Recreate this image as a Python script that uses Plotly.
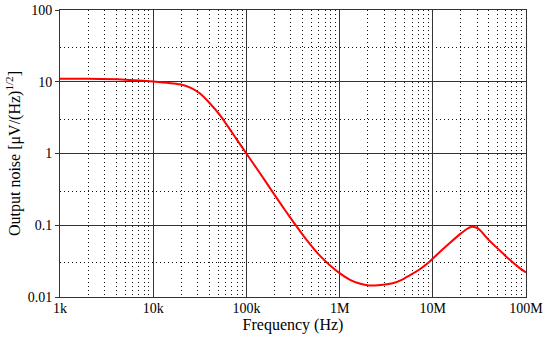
import plotly.graph_objects as go

freq_hz = [1e3, 2e3, 5e3, 1e4, 1.93e4, 2.5e4, 3.16e4, 4e4, 5.18e4, 7.8e4, 1e5, 1.4e5, 1.93e5,
           2.6e5, 3.5e5, 4.4e5, 6.1e5, 7.8e5, 1e6, 1.28e6, 1.64e6, 2.06e6, 2.6e6,
           3.7e6, 4.7e6, 5.6e6, 7.2e6, 9.2e6, 1.18e7, 1.51e7, 1.93e7, 2.3e7, 2.6e7,
           2.9e7, 3.16e7, 4e7, 5.18e7, 6.6e7, 8.5e7, 1e8]
noise = [11.0, 11.0, 10.7, 10.1, 9.2, 8.3, 6.9, 5.1, 3.45, 1.6, 1.0, 0.53, 0.285,
         0.162, 0.094, 0.063, 0.038, 0.028, 0.0215, 0.0175, 0.0154, 0.0145, 0.0146,
         0.0155, 0.0175, 0.0199, 0.0242, 0.031, 0.042, 0.056, 0.074, 0.088, 0.095,
         0.093, 0.087, 0.062, 0.045, 0.0335, 0.0255, 0.022]

x_major = [1e3, 1e4, 1e5, 1e6, 1e7, 1e8]
x_labels = ["1k", "10k", "100k", "1M", "10M", "100M"]
y_major = [0.01, 0.1, 1, 10, 100]
y_labels = ["0.01", "0.1", "1", "10", "100"]
x_minor = [m * d for d in [1e3, 1e4, 1e5, 1e6, 1e7] for m in range(2, 10)]
y_minor = [3 * d for d in [0.01, 0.1, 1, 10]]

serif = "Liberation Serif, Times New Roman, serif"

fig = go.Figure()
fig.add_trace(go.Scatter(x=freq_hz, y=noise, mode="lines",
                         line=dict(color="#ff0000", width=2, shape="spline", smoothing=0.6),
                         showlegend=False, hoverinfo="skip"))

axis_common = dict(
    type="log", tickmode="array",
    showgrid=True, gridcolor="#333333", gridwidth=1,
    showline=True, linecolor="#333333", linewidth=1, mirror=True,
    ticklen=4, tickcolor="#333333", zeroline=False, automargin=False,
    tickfont=dict(family=serif, size=14, color="black"),
)

fig.update_layout(
    width=550, height=342,
    margin=dict(l=60, r=24, t=10, b=45),
    paper_bgcolor="white", plot_bgcolor="white",
    font=dict(family=serif, size=14, color="black"),
    xaxis=dict(range=[3, 8], tickvals=x_major, ticktext=x_labels, ticks="inside",
               ticklabelstandoff=-2,
               minor=dict(tickmode="array", tickvals=x_minor, showgrid=True, gridcolor="#111111",
                          griddash="1px,3px", gridwidth=1, ticks=""),
               title=dict(text="Frequency (Hz)", font=dict(family=serif, size=16, color="black"),
                          standoff=1),
               **axis_common),
    yaxis=dict(range=[-2, 2], tickvals=y_major, ticktext=y_labels, ticks="outside",
               minor=dict(tickmode="array", tickvals=y_minor, showgrid=True, gridcolor="#111111",
                          griddash="1px,3px", gridwidth=1, ticks=""),
               title=dict(text="Output noise [μV/(Hz)<sup>1/2</sup>]",
                          font=dict(family=serif, size=16, color="black"), standoff=3),
               **axis_common),
)
fig.write_html("out.html", config={"displayModeBar": False},
               post_script="document.body.style.margin='0';document.body.style.padding='0';")
